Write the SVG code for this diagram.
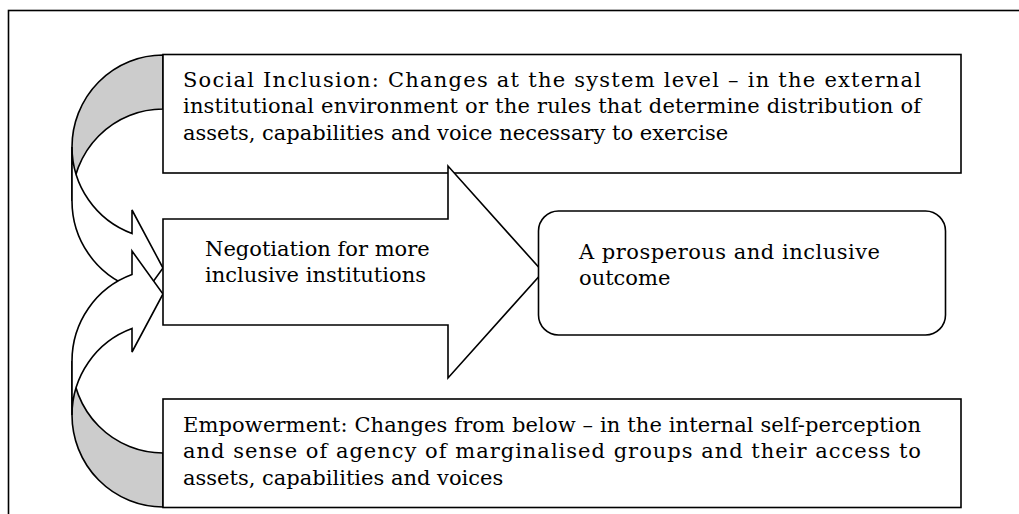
<svg xmlns="http://www.w3.org/2000/svg" width="1019" height="514" viewBox="0 0 1019 514">
<style>
.ln{stroke:#000;stroke-width:1.6;stroke-linejoin:miter}
.wf{fill:#fff}
.gf{fill:#cccccc}
text{font-family:"DejaVu Serif","Liberation Serif",serif;font-size:21px;fill:#000}
</style>
<rect width="1019" height="514" fill="#fff"/>
<rect x="8.5" y="10.5" width="1100" height="600" fill="none" class="ln"/>
<g id="connectors">
<g id="curved-arrow-top">
<path class="ln gf" d="M72,147 A91,92 0 0 1 163,55 L163,109 A91,92 0 0 0 72,201 Z"/>
<path class="ln wf" d="M72,147 A91,92 0 0 0 132,233.5 L132,210 L163,268 L132,311 L132,287.5 A91,92 0 0 1 72,201 Z"/>
</g>
<g id="curved-arrow-bottom">
<path class="ln gf" d="M72,415 A91,92 0 0 0 163,507 L163,453 A91,92 0 0 1 72,361 Z"/>
<path class="ln wf" d="M72,415 A91,92 0 0 1 132,328.5 L132,352 L163,294 L132,251 L132,274.5 A91,92 0 0 0 72,361 Z"/>
</g>
</g>
<g id="social-inclusion">
<rect class="ln wf" x="163" y="54.5" width="798" height="118.5"/>
<text x="183" y="86.5" textLength="738" lengthAdjust="spacing">Social Inclusion: Changes at the system level – in the external</text>
<text x="183" y="113" textLength="738" lengthAdjust="spacing">institutional environment or the rules that determine distribution of</text>
<text x="183" y="139.5">assets, capabilities and voice necessary to exercise</text>
</g>
<g id="negotiation">
<path class="ln wf" d="M163,219 L448,219 L448,166 L543,272 L448,378 L448,325 L163,325 Z"/>
<text x="205" y="255.5">Negotiation for more</text>
<text x="205" y="282">inclusive institutions</text>
</g>
<g id="outcome">
<rect class="ln wf" x="538.5" y="211" width="407" height="124" rx="20" ry="20"/>
<text x="579" y="258.5" textLength="301" lengthAdjust="spacing">A prosperous and inclusive</text>
<text x="579" y="285">outcome</text>
</g>
<g id="empowerment">
<rect class="ln wf" x="163" y="399" width="798" height="108.5"/>
<text x="183" y="431.5" textLength="738" lengthAdjust="spacing">Empowerment: Changes from below – in the internal self-perception</text>
<text x="183" y="458" textLength="738" lengthAdjust="spacing">and sense of agency of marginalised groups and their access to</text>
<text x="183" y="484.5">assets, capabilities and voices</text>
</g>
</svg>
